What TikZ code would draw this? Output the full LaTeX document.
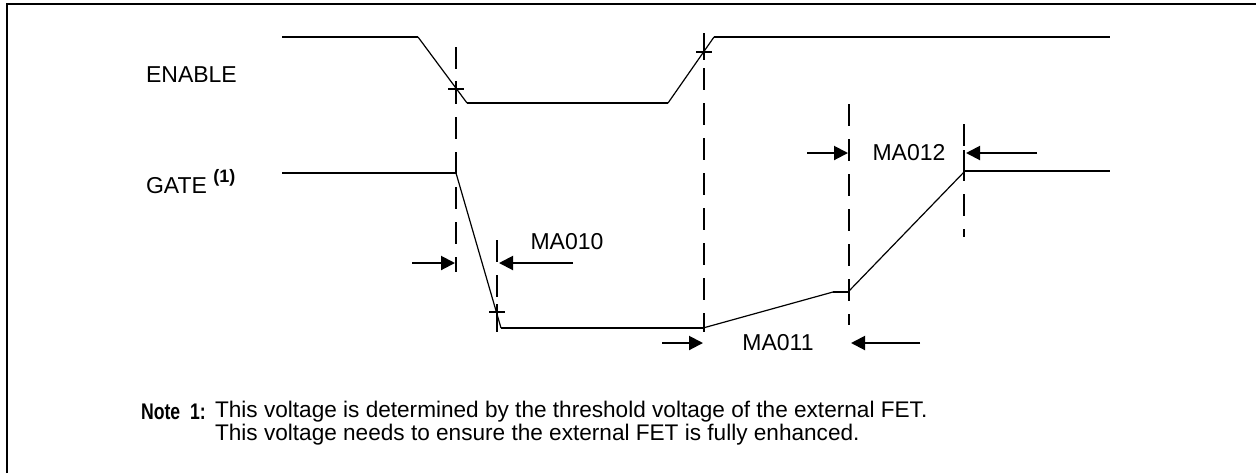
\documentclass[tikz,border=0pt]{standalone}
\usepackage{fontspec}
\usepackage{graphicx}
\setmainfont{Liberation Sans}
\usetikzlibrary{arrows.meta}

\begin{document}
\begin{tikzpicture}[x=0.5pt, y=-0.5pt, font=\fontsize{11.5}{13}\selectfont,
  sig/.style={line width=1pt},
  edge/.style={line width=0.6pt},
  guide/.style={line width=1pt, dash pattern=on 11pt off 6.5pt},
  tmark/.style={line width=1pt},
  note/.style={anchor=west, font=\fontsize{11.3}{13}\selectfont},
  dim/.style={line width=1pt, -{Triangle[length=7pt,width=7pt]}}]
  \useasboundingbox (0,0) rectangle (1256,473);
  \draw[line width=1.2pt] (7,473) -- (7,4) -- (1256,4);
  %% labels
  \node[anchor=west] (en) at (139,75) {ENABLE};
  \node[anchor=west] (gt) at (139,182) {GATE \raisebox{0.9ex}{\fontsize{9}{9}\selectfont\bfseries (1)}};
  %% ENABLE
  \draw[sig] (282,37) -- (418,37);
  \draw[edge] (418,37) -- (467,103);
  \draw[sig] (467,103) -- (668,103);
  \draw[edge] (668,103) -- (714,37);
  \draw[sig] (714,37) -- (1110,37);
  %% GATE
  \draw[sig] (282,173) -- (456,173);
  \draw[edge] (456,173) -- (501,328);
  \draw[sig] (501,328) -- (703,328);
  \draw[edge] (703,328) -- (833,292);
  \draw[sig] (833,292) -- (848,292);
  \draw[edge] (848,292) -- (965,171);
  \draw[sig] (965,171) -- (1110,171);
  %% guides
  \draw[guide] (456,47) -- (456,272);
  \draw[guide] (497,240) -- (497,342);
  \draw[guide] (704,33) -- (704,332);
  \draw[guide] (849,104) -- (849,325);
  \draw[guide] (964,124) -- (964,237);
  \draw[line width=1pt] (456,160) -- (456,173);
  \draw[line width=1pt] (964,150) -- (964,171);
  %% crossings
  \draw[tmark] (448,89) -- (464,89) (456,81) -- (456,97);
  \draw[tmark] (696,52) -- (712,52) (704,44) -- (704,60);
  \draw[tmark] (489,312) -- (505,312) (497,304) -- (497,320);
  %% timing arrows
  \coordinate (a0) at (412,263); \coordinate (b0) at (455,263);
  \coordinate (c0) at (573,263); \coordinate (d0) at (499,263);
  \draw[dim] (a0) -- (b0);
  \draw[dim] (c0) -- (d0);
  \node (t0) at (567,242) {MA010};
  \coordinate (a1) at (662,343); \coordinate (b1) at (703,343);
  \coordinate (c1) at (920,343); \coordinate (d1) at (851,343);
  \draw[dim] (a1) -- (b1);
  \draw[dim] (c1) -- (d1);
  \node (t1) at (778,343) {MA011};
  \coordinate (a2) at (807,153); \coordinate (b2) at (848,153);
  \coordinate (c2) at (1037,153); \coordinate (d2) at (966,153);
  \draw[dim] (a2) -- (b2);
  \draw[dim] (c2) -- (d2);
  \node (t2) at (909,153) {MA012};
  %% note
  \node[note] (nt) at (134,412) {\scalebox{0.78}[1]{\bfseries Note\ \ 1:}};
  \node[note] (n1) at (208,412) {This voltage is determined by the threshold voltage of the external FET.};
  \node[note] (n2) at (208,435) {This voltage needs to ensure the external FET is fully enhanced.};
\end{tikzpicture}
\end{document}
